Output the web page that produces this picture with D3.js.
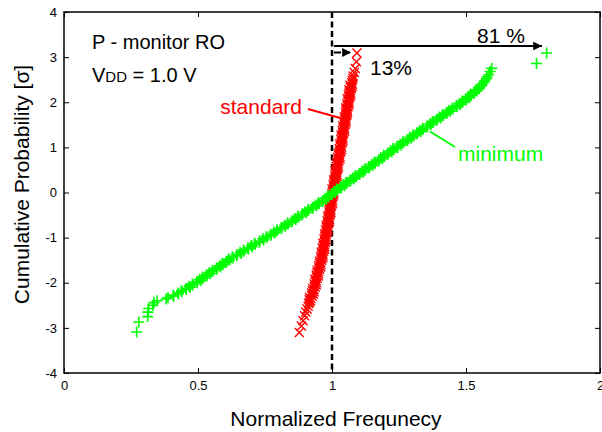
<!DOCTYPE html>
<html>
<head>
<meta charset="utf-8">
<script src="https://cdn.jsdelivr.net/npm/d3@7"></script>
<style>
  html, body { margin: 0; padding: 0; background: #fff; }
  text { font-family: "Liberation Sans", Arial, sans-serif; }
</style>
</head>
<body>
<svg id="chart" width="602" height="432"></svg>
<script>
// ---------------- data ----------------
const xTicks = [0, 0.5, 1, 1.5, 2];
const xTickLabels = ["0", "0.5", "1", "1.5", "2"];
const yTicks = [-4, -3, -2, -1, 0, 1, 2, 3, 4];
const yTickLabels = ["-4", "-3", "-2", "-1", "0", "1", "2", "3", "4"];

// "standard" P-monitor RO (red x): cumulative probability [sigma] and normalized frequency
const stdSigma = [-3.10,-2.96,-2.84,-2.73,-2.65,-2.58,-2.52,-2.46,-2.43,
-2.400,-2.375,-2.350,-2.325,-2.300,-2.275,-2.250,-2.225,-2.200,-2.175,-2.150,-2.125,-2.100,-2.075,-2.050,-2.025,
-2.000,-1.975,-1.950,-1.925,-1.900,-1.875,-1.850,-1.825,-1.800,-1.775,-1.750,-1.725,-1.700,-1.675,-1.650,-1.625,
-1.600,-1.575,-1.550,-1.525,-1.500,-1.475,-1.450,-1.425,-1.400,-1.375,-1.350,-1.325,-1.300,-1.275,-1.250,-1.225,
-1.200,-1.175,-1.150,-1.125,-1.100,-1.075,-1.050,-1.025,-1.000,-0.975,-0.950,-0.925,-0.900,-0.875,-0.850,-0.825,
-0.800,-0.775,-0.750,-0.725,-0.700,-0.675,-0.650,-0.625,-0.600,-0.575,-0.550,-0.525,-0.500,-0.475,-0.450,-0.425,
-0.400,-0.375,-0.350,-0.325,-0.300,-0.275,-0.250,-0.225,-0.200,-0.175,-0.150,-0.125,-0.100,-0.075,-0.050,-0.025,
0.000,0.025,0.050,0.075,0.100,0.125,0.150,0.175,0.200,0.225,0.250,0.275,0.300,0.325,0.350,0.375,
0.400,0.425,0.450,0.475,0.500,0.525,0.550,0.575,0.600,0.625,0.650,0.675,0.700,0.725,0.750,0.775,
0.800,0.825,0.850,0.875,0.900,0.925,0.950,0.975,1.000,1.025,1.050,1.075,1.100,1.125,1.150,1.175,
1.200,1.225,1.250,1.275,1.300,1.325,1.350,1.375,1.400,1.425,1.450,1.475,1.500,1.525,1.550,1.575,
1.600,1.625,1.650,1.675,1.700,1.725,1.750,1.775,1.800,1.825,1.850,1.875,1.900,1.925,1.950,1.975,
2.000,2.025,2.050,2.075,2.100,2.125,2.150,2.175,2.200,2.225,2.250,2.275,2.300,2.325,2.350,2.375,2.400,
2.44,2.48,2.53,2.58,2.66,2.75,2.90,3.09];
const stdFreq = [0.878,0.886,0.892,0.898,0.902,0.907,0.911,0.913,0.916,
0.920,0.915,0.921,0.916,0.926,0.924,0.931,0.924,0.933,0.927,0.933,0.928,0.937,0.934,0.941,0.933,
0.942,0.936,0.941,0.936,0.945,0.942,0.949,0.941,0.950,0.944,0.950,0.945,0.954,0.951,0.958,0.950,
0.959,0.953,0.958,0.953,0.962,0.959,0.966,0.958,0.967,0.961,0.966,0.960,0.969,0.966,0.973,0.964,
0.973,0.967,0.972,0.966,0.975,0.972,0.979,0.970,0.979,0.973,0.978,0.972,0.981,0.978,0.985,0.976,
0.985,0.979,0.984,0.978,0.987,0.984,0.991,0.982,0.991,0.985,0.990,0.984,0.993,0.990,0.996,0.988,
0.996,0.990,0.995,0.989,0.998,0.995,1.002,0.993,1.002,0.996,1.001,0.995,1.004,1.001,1.007,0.999,
1.007,1.001,1.006,1.000,1.009,1.006,1.013,1.004,1.013,1.007,1.012,1.006,1.015,1.012,1.019,1.010,
1.019,1.013,1.017,1.012,1.020,1.017,1.024,1.015,1.024,1.018,1.023,1.017,1.026,1.023,1.030,1.021,
1.030,1.024,1.029,1.023,1.032,1.029,1.036,1.027,1.036,1.030,1.035,1.029,1.038,1.035,1.041,1.033,
1.041,1.035,1.040,1.034,1.043,1.040,1.047,1.038,1.047,1.041,1.046,1.040,1.049,1.046,1.053,1.044,
1.053,1.047,1.052,1.046,1.055,1.052,1.058,1.050,1.058,1.052,1.057,1.051,1.060,1.057,1.064,1.055,
1.064,1.058,1.063,1.057,1.066,1.063,1.070,1.061,1.070,1.064,1.069,1.063,1.072,1.069,1.076,1.067,1.076,
1.073,1.076,1.078,1.079,1.083,1.087,1.091,1.093];

// "minimum" P-monitor RO (green +)
const minSigma = [-3.09,-2.87,-2.75,-2.65,-2.57,-2.50,-2.44,-2.40,-2.36,-2.33,
-2.300,-2.275,-2.250,-2.225,-2.200,-2.175,-2.150,-2.125,-2.100,-2.075,-2.050,-2.025,
-2.000,-1.975,-1.950,-1.925,-1.900,-1.875,-1.850,-1.825,-1.800,-1.775,-1.750,-1.725,-1.700,-1.675,-1.650,-1.625,
-1.600,-1.575,-1.550,-1.525,-1.500,-1.475,-1.450,-1.425,-1.400,-1.375,-1.350,-1.325,-1.300,-1.275,-1.250,-1.225,
-1.200,-1.175,-1.150,-1.125,-1.100,-1.075,-1.050,-1.025,-1.000,-0.975,-0.950,-0.925,-0.900,-0.875,-0.850,-0.825,
-0.800,-0.775,-0.750,-0.725,-0.700,-0.675,-0.650,-0.625,-0.600,-0.575,-0.550,-0.525,-0.500,-0.475,-0.450,-0.425,
-0.400,-0.375,-0.350,-0.325,-0.300,-0.275,-0.250,-0.225,-0.200,-0.175,-0.150,-0.125,-0.100,-0.075,-0.050,-0.025,
0.000,0.025,0.050,0.075,0.100,0.125,0.150,0.175,0.200,0.225,0.250,0.275,0.300,0.325,0.350,0.375,
0.400,0.425,0.450,0.475,0.500,0.525,0.550,0.575,0.600,0.625,0.650,0.675,0.700,0.725,0.750,0.775,
0.800,0.825,0.850,0.875,0.900,0.925,0.950,0.975,1.000,1.025,1.050,1.075,1.100,1.125,1.150,1.175,
1.200,1.225,1.250,1.275,1.300,1.325,1.350,1.375,1.400,1.425,1.450,1.475,1.500,1.525,1.550,1.575,
1.600,1.625,1.650,1.675,1.700,1.725,1.750,1.775,1.800,1.825,1.850,1.875,1.900,1.925,1.950,1.975,
2.000,2.025,2.050,2.075,2.100,2.125,2.150,2.175,2.200,2.225,2.250,2.275,2.300,
2.33,2.36,2.40,2.44,2.48,2.52,2.56,2.61,2.68,2.75,2.86,3.09];
const minFreq = [0.271,0.279,0.312,0.313,0.316,0.331,0.336,0.347,0.381,0.388,
0.409,0.408,0.427,0.426,0.439,0.438,0.456,0.455,0.471,0.467,0.481,0.479,
0.497,0.496,0.511,0.506,0.520,0.517,0.533,0.531,0.546,0.542,0.555,0.554,0.571,0.569,0.584,0.580,
0.593,0.590,0.606,0.605,0.618,0.614,0.630,0.628,0.645,0.645,0.661,0.657,0.671,0.670,0.688,0.686,
0.702,0.699,0.713,0.711,0.729,0.730,0.745,0.742,0.757,0.755,0.772,0.771,0.787,0.783,0.796,0.795,
0.812,0.811,0.826,0.823,0.836,0.834,0.851,0.851,0.865,0.861,0.875,0.873,0.889,0.888,0.904,0.899,
0.912,0.911,0.928,0.927,0.942,0.938,0.952,0.949,0.966,0.965,0.979,0.974,0.988,0.984,1.000,0.998,
1.012,1.007,1.020,1.017,1.034,1.032,1.047,1.042,1.055,1.052,1.069,1.068,1.082,1.077,1.091,1.087,
1.103,1.102,1.117,1.112,1.125,1.123,1.140,1.137,1.152,1.148,1.161,1.158,1.175,1.174,1.188,1.182,
1.196,1.193,1.209,1.208,1.223,1.218,1.231,1.228,1.245,1.243,1.258,1.254,1.267,1.264,1.282,1.281,
1.295,1.290,1.305,1.302,1.318,1.317,1.332,1.327,1.340,1.338,1.356,1.354,1.369,1.365,1.378,1.375,
1.392,1.391,1.406,1.401,1.415,1.412,1.428,1.427,1.442,1.437,1.451,1.449,1.466,1.464,1.479,1.475,
1.488,1.485,1.501,1.500,1.513,1.507,1.520,1.516,1.531,1.529,1.541,1.537,1.549,
1.550,1.558,1.559,1.567,1.570,1.577,1.578,1.585,1.590,1.596,1.763,1.801];

// ---------------- layout ----------------
const svg = d3.select("#chart");
const L = 64, R = 600, T = 12, B = 373;
const x = d3.scaleLinear().domain([0, 2]).range([L, R]);
const y = d3.scaleLinear().domain([-4, 4]).range([B, T]);
const FONT = "Liberation Sans, Arial, sans-serif";

// axes (inward ticks, MATLAB style)
const gx = svg.append("g").attr("transform", `translate(0,${B})`)
  .call(d3.axisBottom(x).tickValues(xTicks).tickFormat((d, i) => xTickLabels[i])
    .tickSizeInner(-5).tickSizeOuter(0).tickPadding(8));
const gy = svg.append("g").attr("transform", `translate(${L},0)`)
  .call(d3.axisLeft(y).tickValues(yTicks).tickFormat((d, i) => yTickLabels[i])
    .tickSizeInner(-5).tickSizeOuter(0).tickPadding(7));
const gt = svg.append("g").attr("transform", `translate(0,${T})`)
  .call(d3.axisTop(x).tickValues(xTicks).tickFormat("").tickSizeInner(-5).tickSizeOuter(0));
const gr = svg.append("g").attr("transform", `translate(${R},0)`)
  .call(d3.axisRight(y).tickValues(yTicks).tickFormat("").tickSizeInner(-5).tickSizeOuter(0));
[gx, gy, gt, gr].forEach(g => {
  g.select(".domain").remove();
  g.selectAll(".tick line").attr("stroke", "#000").attr("stroke-width", 1);
  g.selectAll(".tick text").attr("font-size", 13).attr("font-family", FONT).attr("fill", "#000");
});
svg.append("rect").attr("x", L).attr("y", T).attr("width", R - L).attr("height", B - T)
  .attr("fill", "none").attr("stroke", "#000").attr("stroke-width", 1.5);

// axis titles
svg.append("text").attr("x", (L + R) / 2 + 4).attr("y", 426).attr("text-anchor", "middle")
  .attr("font-size", 21).attr("font-family", FONT).text("Normalized Frequnecy");
svg.append("text").attr("transform", `translate(29,${(T + B) / 2 - 8}) rotate(-90)`)
  .attr("text-anchor", "middle").attr("font-size", 21).attr("font-family", FONT)
  .text("Cumulative Probability [σ]");

// vertical dashed reference at normalized frequency 1
svg.append("line").attr("x1", x(1)).attr("x2", x(1)).attr("y1", T).attr("y2", B)
  .attr("stroke", "#000").attr("stroke-width", 2.5).attr("stroke-dasharray", "6,3.5");

// markers
const stdPts = stdSigma.map((s, i) => [stdFreq[i], s]);
const minPts = minSigma.map((s, i) => [minFreq[i], s]);
const xs = 4.5, ps = 5.5;
svg.append("g").selectAll("path").data(stdPts).join("path")
  .attr("transform", d => `translate(${x(d[0])},${y(d[1])})`)
  .attr("d", `M${-xs},${-xs}L${xs},${xs}M${-xs},${xs}L${xs},${-xs}`)
  .attr("stroke", "#ff0000").attr("stroke-width", 1.4).attr("fill", "none");
svg.append("g").selectAll("path").data(minPts).join("path")
  .attr("transform", d => `translate(${x(d[0])},${y(d[1])})`)
  .attr("d", `M${-ps},0L${ps},0M0,${-ps}L0,${ps}`)
  .attr("stroke", "#00ff00").attr("stroke-width", 1.6).attr("fill", "none");

// annotations
svg.append("text").attr("x", 92).attr("y", 49).attr("font-size", 20).attr("font-family", FONT)
  .text("P - monitor RO");
const vdd = svg.append("text").attr("x", 92).attr("y", 82).attr("font-size", 20).attr("font-family", FONT);
vdd.append("tspan").text("V");
vdd.append("tspan").attr("font-size", 15).text("DD");
vdd.append("tspan").text(" = 1.0 V");

// arrows
const defs = svg.append("defs");
defs.append("marker").attr("id", "ah").attr("viewBox", "0 0 10 10").attr("refX", 10).attr("refY", 5)
  .attr("markerWidth", 5).attr("markerHeight", 4.4).attr("markerUnits", "strokeWidth").attr("orient", "auto")
  .append("path").attr("d", "M0,0L10,5L0,10Z").attr("fill", "#000");
svg.append("line").attr("x1", x(1) + 2).attr("x2", 542).attr("y1", 46).attr("y2", 46)
  .attr("stroke", "#000").attr("stroke-width", 2).attr("marker-end", "url(#ah)");
svg.append("line").attr("x1", x(1) + 2).attr("x2", 351).attr("y1", 52.5).attr("y2", 52.5)
  .attr("stroke", "#000").attr("stroke-width", 2).attr("stroke-dasharray", "7,2").attr("marker-end", "url(#ah)");
svg.append("text").attr("x", 477).attr("y", 43).attr("font-size", 21).attr("font-family", FONT).text("81 %");
svg.append("text").attr("x", 370).attr("y", 75).attr("font-size", 21).attr("font-family", FONT).text("13%");

// series labels with leader lines
svg.append("text").attr("x", 302).attr("y", 114).attr("text-anchor", "end").attr("font-size", 21)
  .attr("font-family", FONT).attr("fill", "#ff0000").text("standard");
svg.append("line").attr("x1", 308).attr("y1", 109).attr("x2", 342).attr("y2", 118.5)
  .attr("stroke", "#ff0000").attr("stroke-width", 2);
svg.append("text").attr("x", 458).attr("y", 161).attr("font-size", 21)
  .attr("font-family", FONT).attr("fill", "#00ff00").text("minimum");
svg.append("line").attr("x1", 430).attr("y1", 131.5).attr("x2", 455).attr("y2", 147)
  .attr("stroke", "#00ff00").attr("stroke-width", 2);
</script>
</body>
</html>
